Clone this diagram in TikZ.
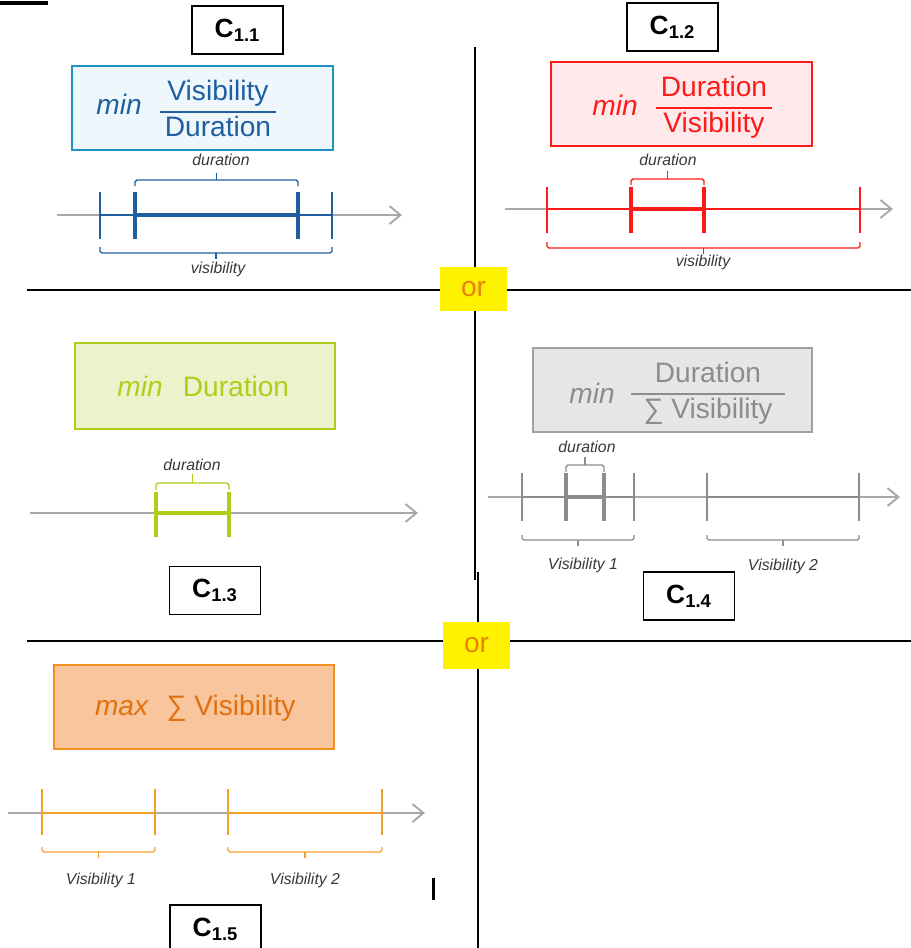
\documentclass[tikz,border=0pt]{standalone}
\usepackage{fontspec}
\setmainfont{Liberation Sans}
\usetikzlibrary{%
  arrows.meta,%
  positioning% wg. " of "
}
\definecolor{vblue}{HTML}{1F5FA0}
\definecolor{vbluebd}{HTML}{2391C4}
\definecolor{vbluefl}{HTML}{EEF8FC}
\definecolor{vred}{HTML}{FF1A1A}
\definecolor{vredfl}{HTML}{FFE9EA}
\definecolor{vgreen}{HTML}{B3CC17}
\definecolor{vgreenfl}{HTML}{ECF2CC}
\definecolor{vgray}{HTML}{8C8C8C}
\definecolor{vgraybd}{HTML}{A0A0A0}
\definecolor{vgrayfl}{HTML}{E6E6E6}
\definecolor{vorange}{HTML}{F4A02C}
\definecolor{vorangebd}{HTML}{F0901E}
\definecolor{vorangefl}{HTML}{F8C59C}
\definecolor{vorangetx}{HTML}{E2700F}
\definecolor{lblgray}{HTML}{383838}
\definecolor{axgray}{HTML}{A8A8A8}
\definecolor{ortxt}{HTML}{E8820C}
\newcommand{\vfrac}[3][3pt]{\setlength{\arrayrulewidth}{1.2pt}%
  \begin{tabular}{@{\hspace{#1}}c@{\hspace{#1}}}#2\\\hline #3\end{tabular}}

\begin{document}
\begin{tikzpicture}[x=0.02cm, y=-0.02cm,
    lbl/.style={draw=black, line width=1pt, fill=white, minimum width=1.82cm,
      minimum height=0.96cm, font=\fontsize{15}{18}\selectfont\bfseries},
    goal/.style={draw, line width=1.4pt, minimum height=1.68cm},
    ftxt/.style={font=\fontsize{16}{19}\selectfont, inner sep=0pt},
    small/.style={font=\fontsize{9}{11}\selectfont\itshape, text=lblgray},
    orbox/.style={fill=yellow, text=ortxt, minimum width=1.34cm,
      font=\fontsize{16}{19}\selectfont},
    axis/.style={draw=axgray, line width=1.1pt, -{Straight Barb[length=2.2mm, width=3.6mm]}},
    tk/.style={line width=1.2pt},
    tkb/.style={line width=2.8pt},
    brace/.style={line width=0.8pt, rounded corners=1pt}
  ]
  \useasboundingbox (0,0) rectangle (911,948);

  % draw frame lines
  \draw[line width=2pt] (0,3) -- (48,3);
  \draw[line width=1.2pt] (475,47) -- (475,580);
  \draw[line width=1.2pt] (478,572) -- (478,948);
  \draw[line width=1.2pt] (27,290) -- (911,290);
  \draw[line width=1.2pt] (27,641) -- (911,641);
  \draw[line width=2pt] (433.5,878) -- (433.5,900);
  \node[orbox, minimum height=0.88cm] at (473.5,289) (or1) {or};
  \node[orbox, minimum height=0.94cm] at (476.5,645.5) (or2) {or};

  % draw case labels
  \node[lbl] at (237.5,30) (c11) {C\textsubscript{1.1}};
  \node[lbl] at (672.5,27) (c12) {C\textsubscript{1.2}};
  \node[lbl] at (215,590.5) (c13) {C\textsubscript{1.3}};
  \node[lbl] at (689,596) (c14) {C\textsubscript{1.4}};
  \node[lbl] at (215.5,929) (c15) {C\textsubscript{1.5}};

  % draw goal boxes
  \node[goal, draw=vbluebd, fill=vbluefl, minimum width=5.22cm] at (202.5,108) (g11) {};
  \node[goal, draw=vred, fill=vredfl, minimum width=5.22cm] at (681.5,104) (g12) {};
  \node[goal, draw=vgreen, fill=vgreenfl, minimum width=5.2cm, minimum height=1.72cm] at (205,386) (g13) {};
  \node[goal, draw=vgraybd, fill=vgrayfl, minimum width=5.58cm] at (672.5,390) (g14) {};
  \node[goal, draw=vorangebd, fill=vorangefl, minimum width=5.6cm] at (194,707) (g15) {};

  \node[ftxt, text=vblue] at (119,104) (m11) {\textit{min}};
  \node[ftxt, text=vblue] at (218,112) (q11) {\vfrac{Visibility}{Duration}};
  \node[ftxt, text=vred] at (615,105) (m12) {\textit{min}};
  \node[ftxt, text=vred] at (714,108) (q12) {\vfrac{Duration}{Visibility}};
  \node[ftxt, text=vgray] at (592,393) (m14) {\textit{min}};
  \node[ftxt, text=vgray] at (708,394) (q14) {\vfrac[7pt]{Duration}{∑ Visibility}};
  \node[ftxt, text=vgreen] at (140,386) (m13) {\textit{min}};
  \node[ftxt, text=vgreen] at (236,386) (d13) {Duration};
  \node[ftxt, text=vorangetx] at (122,708) (m15) {\textit{max}};
  \node[ftxt, text=vorangetx] at (231,708) (s15) {∑ Visibility};

  % timeline C1.1
  \draw[axis] (57,215) -- (402,215);
  \draw[vblue, tk] (100,215) -- (332,215);
  \draw[vblue, tkb] (135,215) -- (298,215);
  \foreach \x in {100,332}{
    \draw[vblue, tk] (\x,192) -- (\x,239);}
  \foreach \x in {135,298}{
    \draw[vblue, tkb] (\x,192) -- (\x,239);}
  \draw[vblue, brace] (135,186) -- (135,180) -- (298,180) -- (298,186);
  \draw[vblue, brace] (216.5,180) -- (216.5,173);
  \draw[vblue, brace] (100,247) -- (100,253) -- (332,253) -- (332,247);
  \draw[vblue, brace] (216,253) -- (216,259);
  \node[small] at (221,160) (t11) {duration};
  \node[small] at (218,269) (v11) {visibility};

  % timeline C1.2
  \draw[axis] (505,209) -- (893,209);
  \draw[vred, tk] (547,209) -- (860,209);
  \draw[vred, tkb] (631,209) -- (704,209);
  \foreach \x in {547,860}{
    \draw[vred, tk] (\x,187) -- (\x,233);}
  \foreach \x in {631,704}{
    \draw[vred, tkb] (\x,187) -- (\x,233);}
  \draw[vred, brace] (631,185) -- (631,179) -- (704,179) -- (704,185);
  \draw[vred, brace] (667.5,179) -- (667.5,171);
  \draw[vred, brace] (547,242) -- (547,248) -- (860,248) -- (860,242);
  \draw[vred, brace] (703.5,248) -- (703.5,254);
  \node[small] at (668,160) (t12) {duration};
  \node[small] at (703,262) (v12) {visibility};

  % timeline C1.3
  \draw[axis] (30,513) -- (418,513);
  \draw[vgreen, line width=1.8pt] (156,513) -- (229,513);
  \foreach \x in {156,229}{
    \draw[vgreen, tkb] (\x,492) -- (\x,537);}
  \draw[vgreen, brace] (156,490) -- (156,483) -- (229,483) -- (229,490);
  \draw[vgreen, brace] (192.5,483) -- (192.5,474);
  \node[small] at (192,465) (t13) {duration};

  % timeline C1.4
  \draw[axis] (488,497) -- (900,497);
  \draw[vgray, tk] (522,497) -- (634,497);
  \draw[vgray, tk] (707,497) -- (859,497);
  \draw[vgray, tkb] (566,497) -- (604,497);
  \foreach \x in {522,634,707,859}{
    \draw[vgray, tk] (\x,473) -- (\x,521);}
  \foreach \x in {566,604}{
    \draw[vgray, tkb] (\x,473) -- (\x,521);}
  \draw[vgray, brace] (566,472) -- (566,465) -- (604,465) -- (604,472);
  \draw[vgray, brace] (585,465) -- (585,457);
  \draw[vgray, brace] (522,535) -- (522,540) -- (634,540) -- (634,535);
  \draw[vgray, brace] (578,540) -- (578,546);
  \draw[vgray, brace] (707,535) -- (707,540) -- (859,540) -- (859,535);
  \draw[vgray, brace] (783,540) -- (783,546);
  \node[small] at (587,447) (t14) {duration};
  \node[small] at (583,565) (v141) {Visibility 1};
  \node[small] at (783,566) (v142) {Visibility 2};

  % timeline C1.5
  \draw[axis] (8,813) -- (425,813);
  \draw[vorange, tk] (42,813) -- (155,813);
  \draw[vorange, tk] (228,813) -- (382,813);
  \foreach \x in {42,155,228,382}{
    \draw[vorange, tk] (\x,789) -- (\x,835);}
  \draw[vorange, brace] (42,847) -- (42,852) -- (155,852) -- (155,847);
  \draw[vorange, brace] (98.5,852) -- (98.5,858);
  \draw[vorange, brace] (228,847) -- (228,852) -- (382,852) -- (382,847);
  \draw[vorange, brace] (305,852) -- (305,858);
  \node[small] at (101,880) (v151) {Visibility 1};
  \node[small] at (305,880) (v152) {Visibility 2};
\end{tikzpicture}
\end{document}
